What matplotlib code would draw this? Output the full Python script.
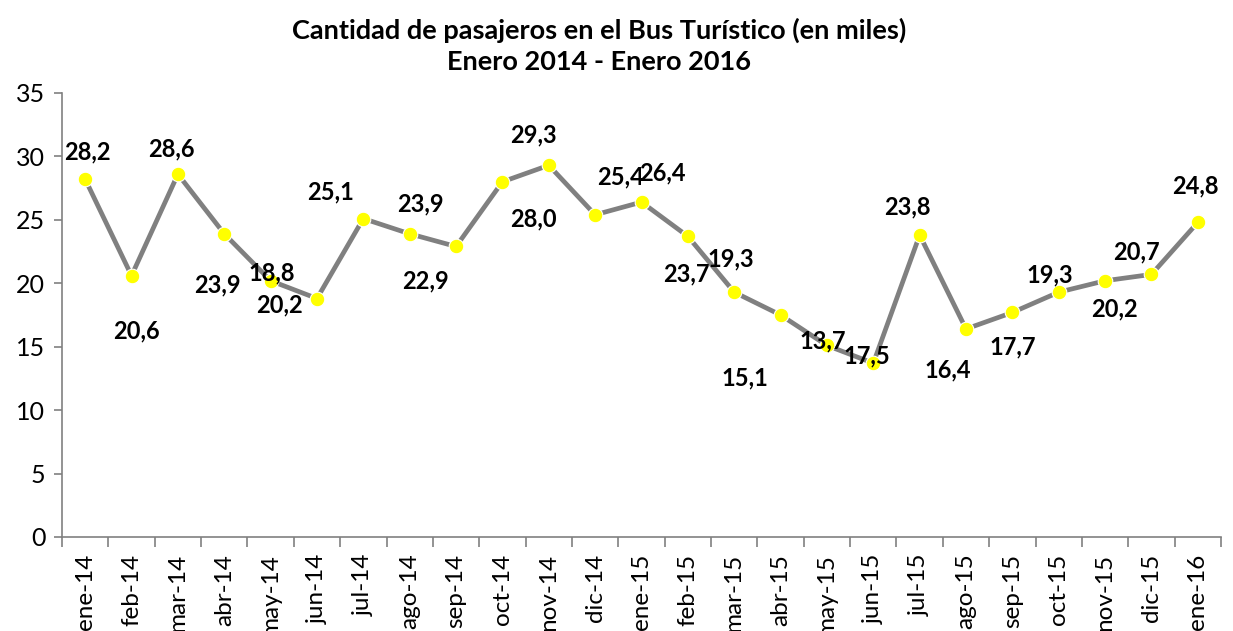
import matplotlib.pyplot as plt
import numpy as np

plt.rcParams['font.family'] = ['Lato', 'DejaVu Sans']

months = ["ene-14", "feb-14", "mar-14", "abr-14", "may-14", "jun-14", "jul-14",
          "ago-14", "sep-14", "oct-14", "nov-14", "dic-14", "ene-15", "feb-15",
          "mar-15", "abr-15", "may-15", "jun-15", "jul-15", "ago-15", "sep-15",
          "oct-15", "nov-15", "dic-15", "ene-16"]
pasajeros = [28.2, 20.6, 28.6, 23.9, 20.2, 18.8, 25.1, 23.9, 22.9, 28.0, 29.3,
             25.4, 26.4, 23.7, 19.3, 17.5, 15.1, 13.7, 23.8, 16.4, 17.7, 19.3,
             20.2, 20.7, 24.8]
# label texts as shown in the original (Excel placed them by hand)
etiquetas = ["28,2", "20,6", "28,6", "23,9", "18,8", "20,2", "25,1", "23,9",
             "22,9", "28,0", "29,3", "25,4", "26,4", "23,7", "19,3", "17,5",
             "15,1", "13,7", "23,8", "16,4", "17,7", "19,3", "20,2", "20,7",
             "24,8"]
# label offsets in pixels (dx, dy down)
desp = [(2, -27), (5, 55), (-7, -25), (-7, 51), (1, -8), (-37, 6), (-33, -27),
        (11, -30), (-31, 34), (31, 37), (-15, -30), (25, -38), (21, -29),
        (-1, 38), (-3, -33), (86, 41), (-82, 32), (-51, -22), (-12, -28),
        (-18, 41), (0, 34), (-9, -17), (9, 28), (-15, -22), (-2, -36)]

fig = plt.figure(figsize=(12.33, 6.31), dpi=100)
ax = fig.add_axes([62/1233, 1-537/631, (1221-62)/1233, (537-93)/631])

x = np.arange(len(months))
ax.plot(x, pasajeros, color='#808080', lw=3.4, zorder=2)
ax.plot(x, pasajeros, 'o', color='#FFFF00', mec='white', mew=0.8, ms=10.5, zorder=3)

for xi, yi, t, (dx, dy) in zip(x, pasajeros, etiquetas, desp):
    ax.annotate(t, (xi, yi), xytext=(dx, -dy), textcoords='offset pixels',
                ha='center', va='center', fontsize=17, fontweight='bold', zorder=4)

ax.set_xlim(-0.5, len(months)-0.5)
ax.set_ylim(0, 35)
ax.set_yticks(range(0, 36, 5))
ax.set_xticks(x)
ax.set_xticklabels(months, rotation=90, fontsize=17.5)
ax.set_xticks(np.arange(-0.5, len(months), 1), minor=True)
ax.tick_params(axis='x', which='major', length=0, pad=12)
ax.tick_params(axis='x', which='minor', length=7, color='#808080', width=1.2)
ax.tick_params(axis='y', length=6, color='#808080', width=1.2, labelsize=18, pad=6)
for s in ['top', 'right']:
    ax.spines[s].set_visible(False)
for s in ['left', 'bottom']:
    ax.spines[s].set_color('#808080')
    ax.spines[s].set_linewidth(1.2)

fig.text(599/1233, 1-30/631, "Cantidad de pasajeros en el Bus Turístico (en miles)",
         ha='center', va='center', fontsize=19.5, fontweight='bold')
fig.text(599/1233, 1-62/631, "Enero 2014 - Enero 2016",
         ha='center', va='center', fontsize=19.5, fontweight='bold')

fig.savefig('out.png', dpi=100)
